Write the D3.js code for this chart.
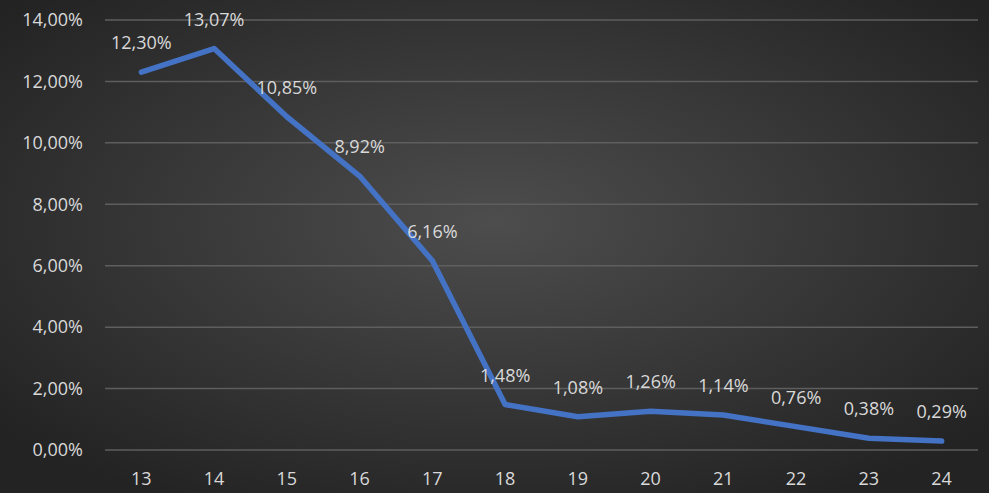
<!DOCTYPE html>
<html>
<head>
<meta charset="utf-8">
<script src="https://cdn.jsdelivr.net/npm/d3@7"></script>
<style>
  html, body { margin: 0; padding: 0; background: #333; }
  #chart svg { display: block; }
</style>
</head>
<body>
<div id="chart"></div>
<script>
// data
const ages = ['13', '14', '15', '16', '17', '18', '19', '20', '21', '22', '23', '24'];
const shares = [12.30, 13.07, 10.85, 8.92, 6.16, 1.48, 1.08, 1.26, 1.14, 0.76, 0.38, 0.29];
const yTicks = [0, 2, 4, 6, 8, 10, 12, 14];

const width = 989, height = 493;
const margin = { top: 20, right: 11, bottom: 43, left: 105 };

const fmt = (v) => v.toFixed(2).replace('.', ',') + '%';

const svg = d3.select('#chart')
  .append('svg')
  .attr('width', width)
  .attr('height', height);

// fondo con degradado radial
const defs = svg.append('defs');
const grad = defs.append('radialGradient')
  .attr('id', 'bg')
  .attr('cx', '50%').attr('cy', '45%').attr('r', '65%');
grad.append('stop').attr('offset', '0%').attr('stop-color', '#4d4d4d');
grad.append('stop').attr('offset', '100%').attr('stop-color', '#232323');
svg.append('rect')
  .attr('width', width).attr('height', height)
  .attr('fill', 'url(#bg)');

const x = d3.scaleBand()
  .domain(ages)
  .range([margin.left, width - margin.right])
  .padding(0);

const y = d3.scaleLinear()
  .domain([0, 14])
  .range([height - margin.bottom, margin.top]);

const font = "'Open Sans', sans-serif";
const textColor = '#d9d9d9';
const fontSize = '18px';

// lineas de la grilla
svg.append('g')
  .selectAll('line')
  .data(yTicks)
  .join('line')
  .attr('x1', margin.left)
  .attr('x2', width - margin.right)
  .attr('y1', (d) => y(d))
  .attr('y2', (d) => y(d))
  .attr('stroke', '#5e5e5e')
  .attr('stroke-width', 1.5);

// eje y
const yAxis = svg.append('g')
  .attr('transform', `translate(${margin.left},0)`)
  .call(d3.axisLeft(y).tickValues(yTicks).tickSize(0).tickPadding(22).tickFormat(fmt));
yAxis.select('.domain').remove();
yAxis.selectAll('text')
  .style('font-family', font)
  .style('font-size', fontSize)
  .style('fill', textColor);

// eje x
const xAxis = svg.append('g')
  .attr('transform', `translate(0,${height - margin.bottom})`)
  .call(d3.axisBottom(x).tickSize(0).tickPadding(22));
xAxis.select('.domain').remove();
xAxis.selectAll('text')
  .style('font-family', font)
  .style('font-size', fontSize)
  .style('fill', textColor);

// linea
const line = d3.line()
  .x((d, i) => x(ages[i]) + x.bandwidth() / 2)
  .y((d) => y(d));

svg.append('path')
  .datum(shares)
  .attr('d', line)
  .attr('fill', 'none')
  .attr('stroke', '#4472c4')
  .attr('stroke-width', 5.5)
  .attr('stroke-linejoin', 'round')
  .attr('stroke-linecap', 'round');

// etiquetas de datos
svg.append('g')
  .selectAll('text')
  .data(shares)
  .join('text')
  .attr('x', (d, i) => x(ages[i]) + x.bandwidth() / 2)
  .attr('y', (d) => y(d) - 23)
  .attr('text-anchor', 'middle')
  .style('font-family', font)
  .style('font-size', fontSize)
  .style('fill', textColor)
  .text(fmt);
</script>
</body>
</html>
